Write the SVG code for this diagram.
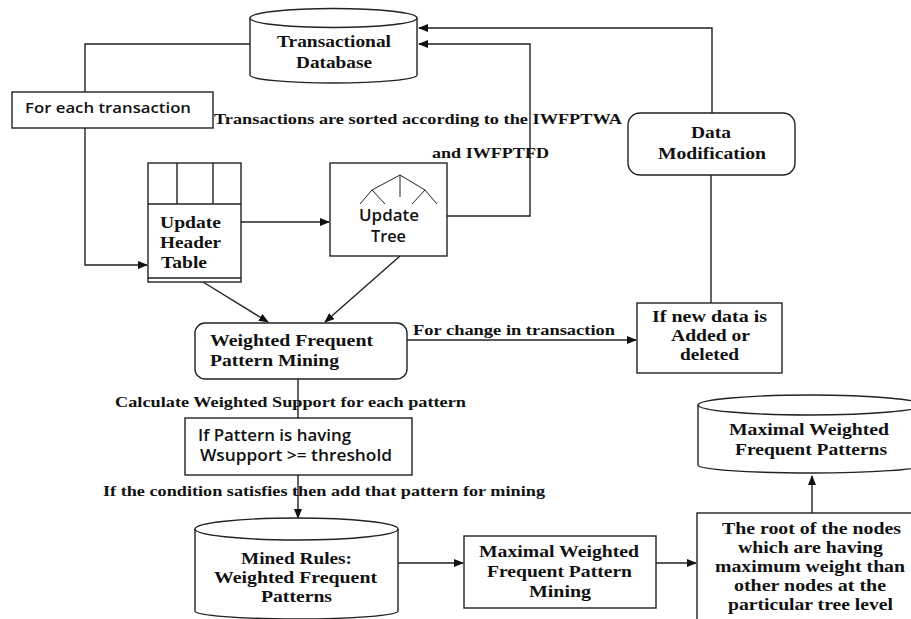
<svg xmlns="http://www.w3.org/2000/svg" width="911" height="619" viewBox="0 0 911 619">
<defs>
<style>
.s{fill:#fff;stroke:#222;stroke-width:1.4}
.ln{fill:none;stroke:#222;stroke-width:1.4}
.t{font-family:"Liberation Serif",serif;font-weight:bold;font-size:15px;fill:#111}
.n{font-family:"Liberation Serif",serif;font-weight:bold;font-size:17.5px;fill:#111}
.m{font-family:"Liberation Serif",serif;font-weight:bold;font-size:16px;fill:#111}
.sa{font-family:"Open Sans","Liberation Sans",sans-serif;font-weight:600;font-size:16px;fill:#111}
.sb{font-family:"Open Sans","Liberation Sans",sans-serif;font-weight:600;font-size:14px;fill:#111}
</style>
<marker id="a" markerWidth="10" markerHeight="8" refX="9" refY="4" orient="auto" markerUnits="userSpaceOnUse">
<path d="M0,0 L10,4 L0,8 Z" fill="#111"/>
</marker>
</defs>
<rect width="911" height="619" fill="#fff"/>
<g id="connectors">
<path class="ln" d="M250,44 H85 V92"/>
<path class="ln" d="M85,128 V265 H147" marker-end="url(#a)"/>
<path class="ln" d="M241,222 H329" marker-end="url(#a)"/>
<path class="ln" d="M447,216 H530 V44 H419" marker-end="url(#a)"/>
<path class="ln" d="M712,113 V28 H419" marker-end="url(#a)"/>
<path class="ln" d="M711,175 V303"/>
<path class="ln" d="M203,282 L268,322" marker-end="url(#a)"/>
<path class="ln" d="M400,256 L325,322" marker-end="url(#a)"/>
<path class="ln" d="M407,340 H636" marker-end="url(#a)"/>
<path class="ln" d="M298,379 V418"/>
<path class="ln" d="M298,475 V518" marker-end="url(#a)"/>
<path class="ln" d="M398,563 H463" marker-end="url(#a)"/>
<path class="ln" d="M656,563 H696" marker-end="url(#a)"/>
<path class="ln" d="M812,513 V476" marker-end="url(#a)"/>
</g>
<g id="transactional-database">
<path class="s" d="M250,18 A83.5,9.5 0 0 1 417,18 V75 A83.5,8 0 0 1 250,75 Z"/>
<path class="ln" d="M250,18 A83.5,9.5 0 0 0 417,18"/>
<text class="n" x="277" y="47" textLength="114" lengthAdjust="spacingAndGlyphs">Transactional</text>
<text class="n" x="296" y="68" textLength="76" lengthAdjust="spacingAndGlyphs">Database</text>
</g>
<g id="for-each-transaction">
<rect class="s" x="12" y="92" width="201" height="36"/>
<text class="sb" x="25" y="113" textLength="166" lengthAdjust="spacingAndGlyphs">For each transaction</text>
</g>
<g id="label-sorted">
<text class="t" x="214" y="124" textLength="408" lengthAdjust="spacingAndGlyphs">Transactions are sorted according to the IWFPTWA</text>
<text class="t" x="432" y="158" textLength="117" lengthAdjust="spacingAndGlyphs">and IWFPTFD</text>
</g>
<g id="update-header-table">
<rect class="s" x="148" y="163" width="93" height="119"/>
<path class="ln" d="M148,204 H241 M177,163 V204 M213,163 V204 M148,278 H241"/>
<text class="n" x="160" y="228" textLength="61" lengthAdjust="spacingAndGlyphs">Update</text>
<text class="n" x="160" y="248" textLength="61" lengthAdjust="spacingAndGlyphs">Header</text>
<text class="n" x="161" y="268" textLength="46" lengthAdjust="spacingAndGlyphs">Table</text>
</g>
<g id="update-tree">
<rect class="s" x="330" y="163" width="117" height="93"/>
<path class="ln" style="stroke-width:1" d="M400,175 L372,190 M372,190 L360,204 M372,190 L385,204 M400,175 V197 M400,175 L425,190 M425,190 L412,204 M425,190 L437,204"/>
<text class="sa" x="359" y="221" textLength="60" lengthAdjust="spacingAndGlyphs">Update</text>
<text class="sa" x="371" y="242" textLength="35" lengthAdjust="spacingAndGlyphs">Tree</text>
</g>
<g id="data-modification">
<rect class="s" x="628" y="113" width="167" height="62" rx="12"/>
<text class="n" x="691" y="138" textLength="40" lengthAdjust="spacingAndGlyphs">Data</text>
<text class="n" x="658" y="159" textLength="108" lengthAdjust="spacingAndGlyphs">Modification</text>
</g>
<g id="if-new-data">
<rect class="s" x="637" y="303" width="145" height="70"/>
<text class="n" x="652" y="322" textLength="115" lengthAdjust="spacingAndGlyphs">If new data is</text>
<text class="n" x="671" y="341" textLength="79" lengthAdjust="spacingAndGlyphs">Added or</text>
<text class="n" x="680" y="360" textLength="59" lengthAdjust="spacingAndGlyphs">deleted</text>
</g>
<g id="weighted-frequent-pattern-mining">
<rect class="s" x="195" y="323" width="212" height="56" rx="10"/>
<text class="n" x="210" y="346" textLength="163" lengthAdjust="spacingAndGlyphs">Weighted Frequent</text>
<text class="n" x="210" y="366" textLength="129" lengthAdjust="spacingAndGlyphs">Pattern Mining</text>
</g>
<g id="label-change">
<text class="t" x="413" y="335" textLength="202" lengthAdjust="spacingAndGlyphs">For change in transaction</text>
</g>
<g id="label-calculate">
<text class="t" x="115" y="407" textLength="351" lengthAdjust="spacingAndGlyphs">Calculate Weighted Support for each pattern</text>
</g>
<g id="if-pattern">
<rect class="s" x="185" y="418" width="227" height="57"/>
<text class="sa" x="198" y="441" textLength="153" lengthAdjust="spacingAndGlyphs">If Pattern is having</text>
<text class="sa" x="200" y="461" textLength="192" lengthAdjust="spacingAndGlyphs">Wsupport &gt;= threshold</text>
</g>
<g id="label-condition">
<text class="t" x="103" y="496" textLength="442" lengthAdjust="spacingAndGlyphs">If the condition satisfies then add that pattern for mining</text>
</g>
<g id="mined-rules">
<path class="s" d="M195,529 A101.5,11 0 0 1 398,529 V611 A101.5,8 0 0 1 195,611 Z"/>
<path class="ln" d="M195,529 A101.5,11 0 0 0 398,529"/>
<text class="m" x="241" y="564" textLength="111" lengthAdjust="spacingAndGlyphs">Mined Rules:</text>
<text class="m" x="214" y="583" textLength="163" lengthAdjust="spacingAndGlyphs">Weighted Frequent</text>
<text class="m" x="261" y="602" textLength="71" lengthAdjust="spacingAndGlyphs">Patterns</text>
</g>
<g id="maximal-wfp-mining">
<rect class="s" x="464" y="536" width="192" height="72"/>
<text class="n" x="479" y="557" textLength="160" lengthAdjust="spacingAndGlyphs">Maximal Weighted</text>
<text class="n" x="487" y="577" textLength="145" lengthAdjust="spacingAndGlyphs">Frequent Pattern</text>
<text class="n" x="529" y="597" textLength="62" lengthAdjust="spacingAndGlyphs">Mining</text>
</g>
<g id="root-of-nodes">
<rect class="s" x="697" y="513" width="230" height="120"/>
<text class="m" x="722" y="534" textLength="179" lengthAdjust="spacingAndGlyphs">The root of the nodes</text>
<text class="m" x="738" y="553" textLength="145" lengthAdjust="spacingAndGlyphs">which are having</text>
<text class="m" x="715" y="572" textLength="190" lengthAdjust="spacingAndGlyphs">maximum  weight than</text>
<text class="m" x="734" y="591" textLength="152" lengthAdjust="spacingAndGlyphs">other nodes at the</text>
<text class="m" x="728" y="610" textLength="165" lengthAdjust="spacingAndGlyphs">particular tree level</text>
</g>
<g id="maximal-wfp">
<path class="s" d="M698,405 A112,10 0 0 1 922,405 V465 A112,8 0 0 1 698,465 Z"/>
<path class="ln" d="M698,405 A112,10 0 0 0 922,405"/>
<text class="n" x="729" y="435" textLength="160" lengthAdjust="spacingAndGlyphs">Maximal  Weighted</text>
<text class="n" x="735" y="455" textLength="152" lengthAdjust="spacingAndGlyphs">Frequent  Patterns</text>
</g>
</svg>
